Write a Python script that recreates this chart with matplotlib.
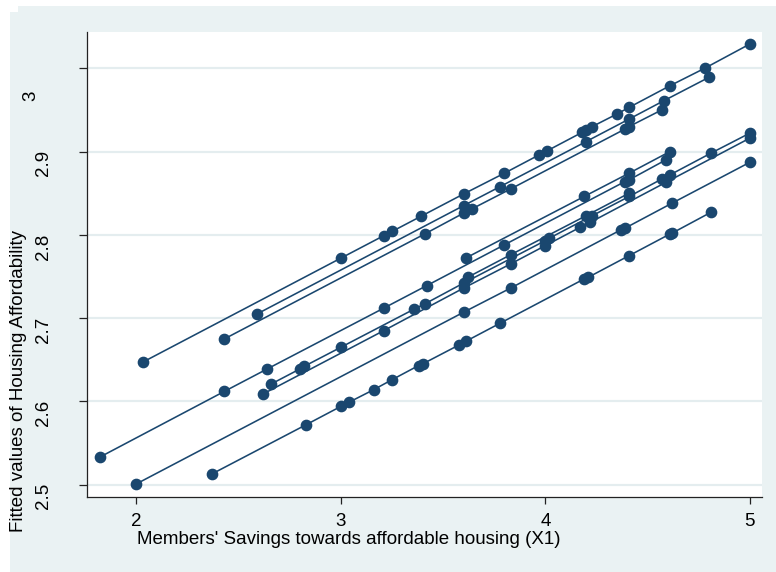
import matplotlib
matplotlib.use("Agg")
import matplotlib.pyplot as plt
import matplotlib.transforms as mtransforms
from matplotlib.patches import Rectangle

# Members' savings (X1) and fitted housing affordability, one list pair per group
x_g1 = [2.03, 3.0, 3.21, 3.25, 3.39, 3.6, 3.8, 3.97, 4.01, 4.18, 4.2, 4.23, 4.35, 4.41, 4.61, 4.78, 5.0]
yhat_g1 = [2.647, 2.772, 2.799, 2.804, 2.822, 2.849, 2.874, 2.896, 2.901, 2.923, 2.926, 2.930, 2.945, 2.953, 2.979, 3.000, 3.029]

x_g2 = [2.59, 3.6, 3.78, 4.2, 4.41, 4.58, 4.8]
yhat_g2 = [2.705, 2.835, 2.858, 2.912, 2.939, 2.961, 2.989]

x_g3 = [2.43, 3.41, 3.6, 3.64, 3.83, 4.39, 4.41, 4.57]
yhat_g3 = [2.675, 2.801, 2.826, 2.831, 2.855, 2.927, 2.930, 2.950]

x_g4 = [3.61, 4.19, 4.41, 4.61]
yhat_g4 = [2.772, 2.846, 2.874, 2.900]

x_g5 = [1.82, 2.43, 2.64, 3.21, 3.42, 3.8, 4.39, 4.41, 4.59]
yhat_g5 = [2.533, 2.612, 2.639, 2.712, 2.739, 2.788, 2.864, 2.866, 2.890]

x_g6 = [3.62, 3.83, 4.2, 4.41]
yhat_g6 = [2.749, 2.776, 2.823, 2.850]

x_g7 = [2.66, 2.8, 2.82, 3.0, 3.36, 3.41, 3.6, 4.0, 4.02, 4.23, 4.41, 4.57, 4.61, 4.81, 5.0]
yhat_g7 = [2.621, 2.639, 2.642, 2.665, 2.711, 2.717, 2.742, 2.793, 2.796, 2.823, 2.846, 2.867, 2.872, 2.898, 2.922]

x_g8 = [2.62, 3.21, 3.6, 3.83, 4.0, 4.17, 4.22, 4.59, 5.0]
yhat_g8 = [2.609, 2.685, 2.736, 2.765, 2.787, 2.809, 2.815, 2.863, 2.916]

x_g9 = [2.0, 3.6, 3.83, 4.37, 4.39, 4.62, 5.0]
yhat_g9 = [2.501, 2.707, 2.736, 2.806, 2.808, 2.838, 2.887]

x_g10 = [2.37, 2.83, 3.0, 3.04, 3.16, 3.25, 3.38, 3.4, 3.58, 3.61, 3.78, 4.19, 4.21, 4.41, 4.61, 4.62, 4.81]
yhat_g10 = [2.513, 2.572, 2.594, 2.599, 2.614, 2.626, 2.643, 2.645, 2.668, 2.672, 2.694, 2.747, 2.749, 2.775, 2.801, 2.802, 2.827]

x_ticks = [2, 3, 4, 5]
x_tick_labels = ["2", "3", "4", "5"]
y_ticks = [2.5, 2.6, 2.7, 2.8, 2.9, 3.0]
y_tick_labels = ["2.5", "2.6", "2.7", "2.8", "2.9", "3"]

x_title = "Members' Savings towards affordable housing (X1)"
y_title = "Fitted values of Housing Affordability"

groups = [
    (x_g1, yhat_g1), (x_g2, yhat_g2), (x_g3, yhat_g3), (x_g4, yhat_g4),
    (x_g5, yhat_g5), (x_g6, yhat_g6), (x_g7, yhat_g7), (x_g8, yhat_g8),
    (x_g9, yhat_g9), (x_g10, yhat_g10),
]

W, H = 776, 572
NAVY = "#1A476F"
REGION = "#EAF2F3"
GRID = "#E4EDEF"
FS = 13.5

plt.rcParams["font.family"] = ["Liberation Sans", "DejaVu Sans"]

fig = plt.figure(figsize=(W / 100, H / 100), dpi=100)
fig.patch.set_facecolor("white")


def fx(px):
    return px / W


def fy(py):
    return 1 - py / H


# outer graph region, drawn beneath the axes
fig.patches.append(Rectangle((fx(18), 0), fx(W) - fx(18), fy(6),
                             transform=fig.transFigure, facecolor=REGION,
                             edgecolor="none", zorder=-5))
fig.patches.append(Rectangle((fx(10), 0), fx(18) - fx(10), fy(12),
                             transform=fig.transFigure, facecolor=REGION,
                             edgecolor="none", zorder=-5))

left, right, top, bottom = 87, 762, 32, 497
ax = fig.add_axes([fx(left), fy(bottom), fx(right) - fx(left), fy(top) - fy(bottom)])
ax.set_facecolor("white")

for xs, ys in groups:
    ax.plot(xs, ys, "-o", color=NAVY, lw=1.15, ms=7.4, mec=NAVY, mfc=NAVY,
            solid_capstyle="butt", zorder=3)

ax.set_xlim(1.758, 5.060)
ax.set_ylim(2.4852, 3.0435)

ax.set_xticks(x_ticks)
ax.set_xticklabels(x_tick_labels)
ax.set_yticks(y_ticks)

ax.yaxis.grid(True, color=GRID, lw=1.6)
ax.xaxis.grid(False)
ax.set_axisbelow(True)

for side in ("top", "right"):
    ax.spines[side].set_visible(False)
for side in ("left", "bottom"):
    ax.spines[side].set_color("#222222")
    ax.spines[side].set_linewidth(0.9)

ax.tick_params(axis="x", length=5.2, width=0.9, color="#222222", pad=6.0,
               labelsize=FS, labelcolor="black")
ax.tick_params(axis="y", length=5.8, width=0.9, color="#222222",
               labelleft=False)

# vertical y tick labels, each hanging down from its tick
ytrans = ax.get_yaxis_transform()
for val, txt in zip(y_ticks, y_tick_labels):
    if len(txt) == 1:
        xpos, dy = (31 - left) / (right - left), -22
    else:
        xpos, dy = (43.5 - left) / (right - left), 1.5
    tr = mtransforms.offset_copy(ytrans, fig=fig, x=0, y=dy, units="dots")
    ax.text(xpos, val, txt, transform=tr, rotation=90, ha="center", va="top",
            fontsize=FS, clip_on=False)

fig.text(fx(349), fy(539), x_title, ha="center", va="center", fontsize=FS)
fig.text(fx(18.5), fy(381), y_title, ha="center", va="center", rotation=90,
         fontsize=FS)

fig.savefig("out.png", dpi=100, facecolor=fig.get_facecolor())
